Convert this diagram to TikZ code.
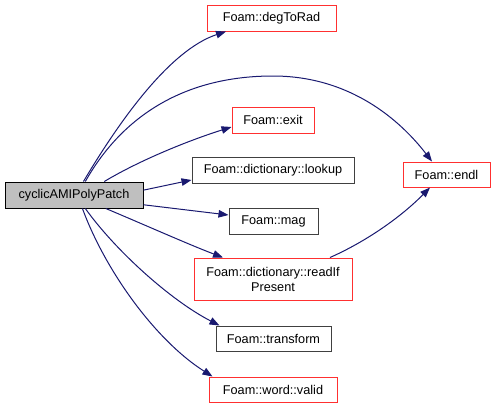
\documentclass[tikz,border=0pt]{standalone}
\usepackage{fontspec}
\setmainfont{Liberation Sans}
\usetikzlibrary{arrows.meta}
\definecolor{edgeblue}{HTML}{191970}
\definecolor{boxgray}{HTML}{BFBFBF}
\definecolor{linkred}{HTML}{FF3030}
\definecolor{boxdark}{HTML}{404040}
\begin{document}
\begin{tikzpicture}[x=1pt, y=-1pt,
        fn/.style={draw, line width=1pt, inner sep=0pt, minimum height=26pt,
            font=\fontsize{12.7}{15}\selectfont, align=center},
        reffn/.style={fn, draw=linkred},
        docfn/.style={fn, draw=boxdark},
        call/.style={draw=edgeblue, line width=1pt,
            -{Triangle[length=10pt, width=7.5pt]}}]
    \useasboundingbox (0,0) rectangle (496,408);

    % Caller
    \node[fn, fill=boxgray, draw=black, minimum width=138pt] (main) at (74,195) {cyclicAMIPolyPatch};

    % Callees
    \node[reffn, minimum width=129pt] (degToRad) at (271.5,18) {Foam::degToRad};
    \node[reffn, minimum width=82pt] (exit) at (273,120) {Foam::exit};
    \node[docfn, minimum width=162pt] (lookup) at (273,170) {Foam::dictionary::lookup};
    \node[docfn, minimum width=89pt] (mag) at (273.5,221) {Foam::mag};
    \node[reffn, minimum width=158pt, minimum height=42pt] (readIfPresent) at (273,279)
        {Foam::dictionary::readIf\\Present};
    \node[docfn, minimum width=115pt, minimum height=25pt] (transform) at (273.5,338.5) {Foam::transform};
    \node[reffn, minimum width=128pt, minimum height=25pt] (valid) at (273,389.5) {Foam::word::valid};
    \node[reffn, minimum width=87pt, minimum height=25pt] (endl) at (446.5,174.5) {Foam::endl};

    % Calls
    \draw[call] (main.55) .. controls (120,120) and (170,50) .. ([xshift=-45.5pt]degToRad.south);
    \draw[call] (main.50) .. controls (120,120) and (180,76) .. (273,76)
        .. controls (350,76) and (400,120) .. ([xshift=-14.5pt]endl.north);
    \draw[call] (main.24) .. controls (140,160) and (190,140) .. ([yshift=-7pt]exit.west);
    \draw[call] (main.4) -- ([yshift=-10pt]lookup.west);
    \draw[call] (main.-8) -- ([yshift=6pt]mag.west);
    \draw[call] (main.-23) .. controls (145,225) and (190,245) .. ([xshift=-50pt]readIfPresent.north);
    \draw[call] (main.-50) .. controls (115,250) and (170,300) .. ([xshift=4pt]transform.north west);
    \draw[call] (main.-58) .. controls (105,270) and (155,340) .. ([xshift=4pt]valid.north west);
    \draw[call] ([xshift=57pt]readIfPresent.north) .. controls (365,242) and (400,218)
        .. ([xshift=-16.5pt]endl.south);
\end{tikzpicture}
\end{document}
